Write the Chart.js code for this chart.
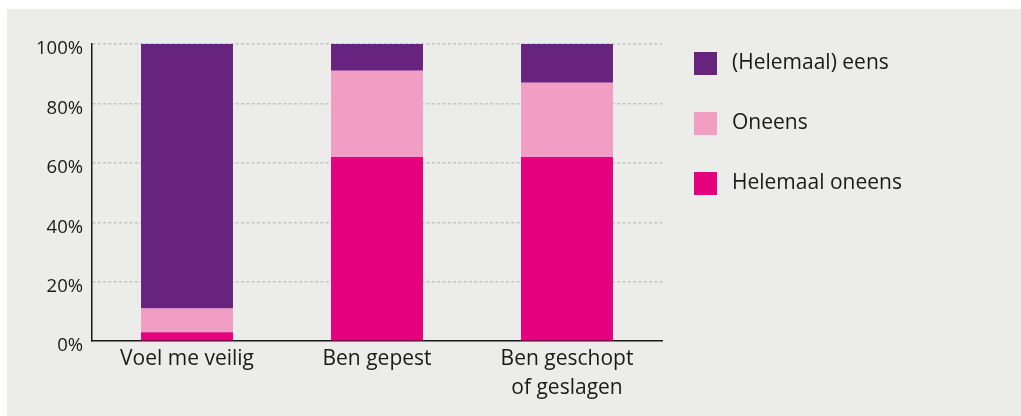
<!DOCTYPE html>
<html>
<head>
<meta charset="utf-8">
<script src="https://cdn.jsdelivr.net/npm/chart.js@4/dist/chart.umd.min.js"></script>
<style>
  html, body { margin: 0; padding: 0; background: #fff; }
  #wrap { position: absolute; left: 7px; top: 9px; width: 1014px; height: 407px; background: #ececea; }
</style>
</head>
<body>
<div id="wrap"><canvas id="chart" width="1014" height="407"></canvas></div>
<script>
// data (percentages)
const categories = ['Voel me veilig', 'Ben gepest', ['Ben geschopt', 'of geslagen']];
const helemaalOneens = [3, 62, 62];
const oneens = [8, 29, 25];
const eens = [89, 9, 13];
const yTicks = [0, 20, 40, 60, 80, 100];

const fontFamily = '"Open Sans", "Noto Sans", sans-serif';
const textColor = '#1a1a1a';

// legend on the right, top item = last (top) stack segment
const sideLegend = {
  id: 'sideLegend',
  afterDraw(chart) {
    const ctx = chart.ctx;
    const area = chart.chartArea;
    const sets = chart.data.datasets.slice().reverse();
    ctx.save();
    ctx.font = '21px ' + fontFamily;
    ctx.textBaseline = 'middle';
    ctx.fillStyle = textColor;
    sets.forEach((ds, i) => {
      const x = area.right + 32;
      const y = area.top + 8 + i * 60;
      ctx.fillStyle = ds.backgroundColor;
      ctx.fillRect(x, y, 23, 23);
      ctx.fillStyle = textColor;
      ctx.fillText(ds.label, x + 38, y + 11.5);
    });
    ctx.restore();
  }
};

function draw() {
  new Chart(document.getElementById('chart'), {
    type: 'bar',
    data: {
      labels: categories,
      datasets: [
        { label: 'Helemaal oneens', data: helemaalOneens, backgroundColor: '#e5007d' },
        { label: 'Oneens', data: oneens, backgroundColor: '#f29ec4' },
        { label: '(Helemaal) eens', data: eens, backgroundColor: '#68237e' }
      ]
    },
    options: {
      responsive: false,
      animation: false,
      layout: { padding: { top: 0, right: 359, bottom: 10, left: 0 } },
      datasets: {
        bar: { barPercentage: 0.484, categoryPercentage: 1, borderWidth: 0 }
      },
      plugins: {
        tooltip: { enabled: false },
        legend: { display: false }
      },
      scales: {
        x: {
          stacked: true,
          grid: { display: false, drawTicks: false },
          border: { color: textColor, width: 1.5 },
          ticks: {
            color: textColor,
            padding: 3,
            font: { family: fontFamily, size: 21, lineHeight: 1.4 }
          }
        },
        y: {
          stacked: true,
          min: 0,
          max: 100,
          afterBuildTicks: s => { s.ticks = yTicks.map(v => ({ value: v })); },
          afterFit: s => { s.width = 85; s.paddingTop = 35; },
          grid: {
            color: ctx => ctx.tick && ctx.tick.value === 0 ? 'rgba(0,0,0,0)' : '#c4c4c2',
            lineWidth: 1.5,
            drawTicks: false
          },
          border: { color: textColor, width: 1.5, dash: [3, 2.3] },
          ticks: {
            color: textColor,
            padding: 9,
            labelOffset: 5,
            font: { family: fontFamily, size: 18.5 },
            callback: v => v + '%'
          }
        }
      }
    },
    plugins: [sideLegend]
  });
}

if (document.fonts && document.fonts.load) {
  Promise.all([
    document.fonts.load('21px "Open Sans"'),
    document.fonts.load('18px "Open Sans"')
  ]).then(draw, draw);
} else {
  draw();
}
</script>
</body>
</html>
